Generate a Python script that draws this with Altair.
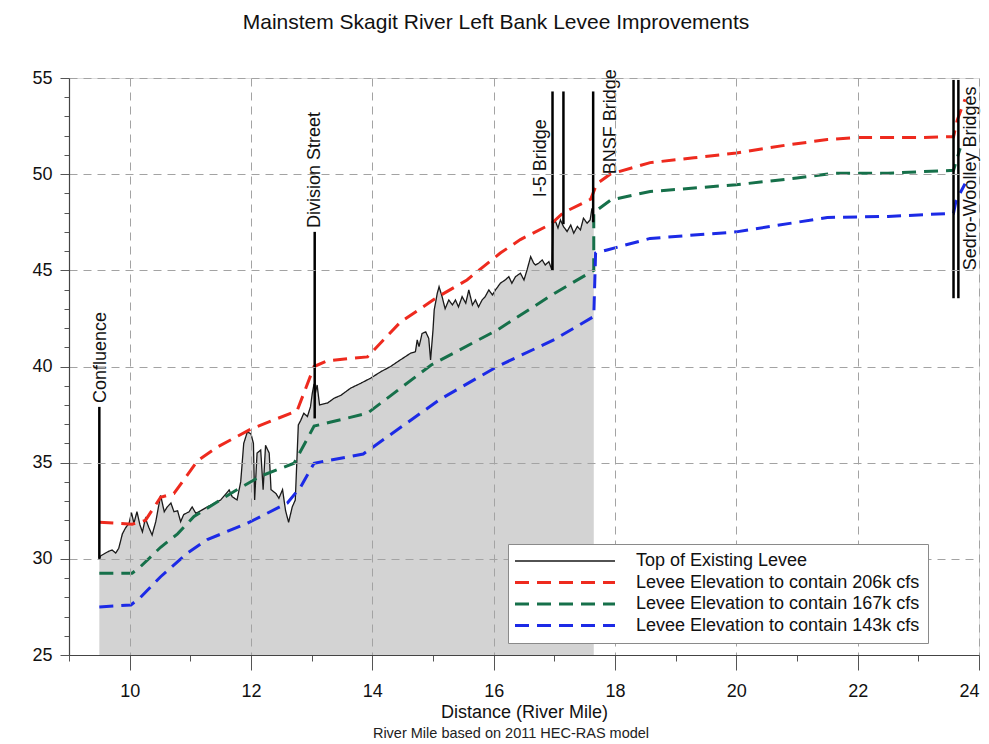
import altair as alt
import pandas as pd

title_text = "Mainstem Skagit River Left Bank Levee Improvements"
x_title = "Distance (River Mile)"
footnote = "River Mile based on 2011 HEC-RAS model"

series_names = [
    "Top of Existing Levee",
    "Levee Elevation to contain 206k cfs",
    "Levee Elevation to contain 167k cfs",
    "Levee Elevation to contain 143k cfs",
]
series_colors = ["#1a1a1a", "#ee2a1e", "#16704a", "#1c2ae6"]

levee_x = [9.5, 9.52, 9.6, 9.66, 9.71, 9.77, 9.82, 9.88, 9.93, 9.99, 10.03, 10.07, 10.12, 10.17,
           10.21, 10.26, 10.32, 10.37, 10.43, 10.51, 10.57, 10.62, 10.68, 10.73, 10.79, 10.84,
           10.89, 10.98, 11.03, 11.09, 11.17, 11.28, 11.4, 11.5, 11.64, 11.69, 11.77, 11.83,
           11.88, 11.94, 12.0, 12.04, 12.06, 12.1, 12.16, 12.2, 12.24, 12.3, 12.33, 12.41,
           12.46, 12.52, 12.57, 12.62, 12.68, 12.73, 12.78, 12.82, 12.87, 12.93, 12.98, 13.01,
           13.04, 13.06, 13.09, 13.13, 13.26, 13.37, 13.48, 13.64, 13.81, 13.97, 14.14, 14.3,
           14.46, 14.63, 14.71, 14.74, 14.77, 14.82, 14.88, 14.93, 14.96, 15.0, 15.02, 15.07,
           15.1, 15.15, 15.2, 15.26, 15.32, 15.37, 15.42, 15.48, 15.54, 15.59, 15.65, 15.7,
           15.75, 15.81, 15.86, 15.92, 15.98, 16.03, 16.11, 16.19, 16.25, 16.3, 16.36, 16.44,
           16.5, 16.55, 16.61, 16.66, 16.69, 16.74, 16.8, 16.85, 16.91, 16.96, 16.98, 17.02,
           17.06, 17.1, 17.15, 17.21, 17.27, 17.32, 17.38, 17.43, 17.48, 17.54, 17.59, 17.62,
           17.65]
levee_y = [30.0, 30.15, 30.3, 30.4, 30.46, 30.3, 30.55, 31.3, 31.6, 31.85, 32.4, 31.85, 32.45, 31.76,
           31.4, 32.1, 31.6, 31.24, 31.93, 33.3, 32.45, 32.7, 32.9, 32.45, 32.5, 31.93,
           32.3, 32.45, 32.7, 32.37, 32.5, 32.7, 32.9, 33.06, 33.58, 33.23, 33.06, 34.0,
           36.0, 36.6, 36.5, 36.0, 33.06, 35.5, 35.66, 33.6, 35.9, 35.5, 33.6, 33.4,
           33.15, 33.6, 32.5, 31.9, 32.7, 33.06, 36.96, 37.2, 37.57, 37.4, 37.9, 38.6,
           39.1, 38.6, 39.04, 38.0, 38.1, 38.35, 38.5, 38.87, 39.13, 39.39, 39.73, 40.0,
           40.34, 40.69, 40.77, 41.38, 41.03, 41.72, 41.8, 41.46, 40.34, 41.9, 42.94, 43.8,
           44.15, 43.63, 43.0, 43.46, 43.2, 43.46, 43.1, 43.63, 43.29, 43.98, 43.2, 43.46,
           43.1, 43.46, 43.63, 43.98, 43.72, 43.98, 44.33, 44.5, 44.67, 44.33, 44.67, 44.85,
           44.5, 45.02, 45.71, 45.37, 45.28, 45.37, 45.54, 45.28, 45.45, 45.02, 47.45, 47.54,
           47.2, 47.62, 47.28, 47.02, 47.36, 46.93, 47.28, 47.1, 47.71, 47.45, 47.62, 48.22,
           47.8]

red_x = [9.5, 10.04, 10.26, 10.51, 10.73, 11.12, 11.44, 12.0, 12.76, 13.04, 13.26, 13.92, 14.46,
         15.07, 15.56, 16.11, 16.44, 16.94, 17.15, 17.6, 17.7, 17.92, 18.58, 19.3, 20.0, 20.8,
         21.5, 22.0, 23.0, 23.58, 23.64, 23.77]
red_y = [31.9, 31.8, 32.0, 33.2, 33.4, 35.1, 35.8, 36.75, 37.7, 40.0, 40.3, 40.5, 42.3,
         43.6, 44.5, 45.9, 46.6, 47.4, 48.0, 48.7, 49.5, 50.0, 50.6, 50.85, 51.1, 51.5,
         51.8, 51.9, 51.9, 51.95, 52.8, 53.9]

green_x = [9.5, 10.04, 10.18, 10.51, 10.79, 11.06, 11.72, 12.16, 12.71, 13.04, 13.3, 13.92, 14.97,
           16.06, 17.0, 17.65, 17.65, 17.93, 18.58, 20.0, 21.0, 21.6, 22.5, 23.58, 23.69]
green_y = [29.25, 29.25, 29.6, 30.6, 31.3, 32.2, 33.5, 34.3, 34.97, 36.9, 37.1, 37.57, 40.08,
           41.9, 43.8, 45.0, 48.0, 48.66, 49.1, 49.45, 49.8, 50.05, 50.05, 50.2, 51.35]

blue_x = [9.5, 10.02, 10.18, 10.51, 10.95, 11.28, 11.94, 12.6, 12.82, 13.04, 13.85, 15.12, 16.06,
          17.0, 17.65, 17.68, 17.87, 18.58, 20.0, 21.0, 21.5, 22.5, 23.58, 23.62, 23.77]
blue_y = [27.5, 27.6, 28.0, 29.07, 30.3, 31.0, 31.85, 32.9, 33.75, 34.97, 35.45, 38.3, 40.0,
          41.4, 42.6, 45.9, 46.06, 46.66, 47.0, 47.5, 47.75, 47.8, 47.97, 48.6, 49.5]

marker_x = [9.5, 13.05, 16.97, 17.15, 17.64, 23.58, 23.66]
marker_lo = [30.0, 37.3, 45.0, 47.4, 47.5, 43.55, 43.55]
marker_hi = [37.9, 47.0, 54.3, 54.3, 54.3, 54.9, 54.9]

label_text = ["Confluence", "Division Street", "I-5 Bridge", "BNSF Bridge", "Sedro-Woolley Bridges"]
label_x = [9.52, 13.05, 16.78, 17.93, 23.86]
label_y = [38.1, 47.2, 48.8, 50.0, 45.0]

FONT = "Liberation Sans"


def frame(xs, ys, name):
    return pd.DataFrame({"mile": xs, "elev": ys, "series": name, "i": list(range(len(xs)))})


lines_df = pd.concat([
    frame(levee_x, levee_y, series_names[0]),
    frame(red_x, red_y, series_names[1]),
    frame(green_x, green_y, series_names[2]),
    frame(blue_x, blue_y, series_names[3]),
], ignore_index=True)
levee_df = frame(levee_x, levee_y, series_names[0])
markers_df = pd.DataFrame({"mile": marker_x, "lo": marker_lo, "hi": marker_hi})
labels_df = pd.DataFrame({"mile": label_x, "elev": label_y, "text": label_text})
foot_df = pd.DataFrame({"text": [footnote]})

xscale = alt.Scale(domain=[9, 24], nice=False)
yscale = alt.Scale(domain=[25, 55], nice=False, zero=False)

x_axis = alt.Axis(
    values=list(range(9, 25)), tickCount=40, format="d", labelOverlap=False,
    labelExpr="datum.value % 2 === 0 ? datum.label : ''",
    tickSize={"condition": {"test": "datum.value % 2 === 0", "value": 15}, "value": 6},
    gridOpacity={"condition": {"test": "datum.value % 2 === 0", "value": 1}, "value": 0},
    grid=True, gridDash=[8, 6], gridColor="#a3a3a3", gridWidth=1,
    domainColor="#444", tickColor="#555", domainWidth=1.2,
    labelFont=FONT, labelFontSize=18, labelColor="#111", labelPadding=12,
    title=x_title, titleFont=FONT, titleFontSize=18, titleFontWeight="normal", titleColor="#111",
    titlePadding=3, zindex=1,
)
y_axis = alt.Axis(
    values=list(range(25, 56)), tickCount=40, format="d", labelOverlap=False,
    labelExpr="datum.value % 5 === 0 ? datum.label : ''",
    tickSize={"condition": {"test": "datum.value % 5 === 0", "value": 9}, "value": 5},
    gridOpacity={"condition": {"test": "datum.value % 5 === 0", "value": 1}, "value": 0},
    grid=True, gridDash=[8, 6], gridColor="#a3a3a3", gridWidth=1,
    domainColor="#444", tickColor="#555", domainWidth=1.2,
    labelFont=FONT, labelFontSize=18, labelColor="#111", labelPadding=8,
    title=None, zindex=1,
)

area = alt.Chart(levee_df).mark_area(color="#d3d3d3").encode(
    x=alt.X("mile:Q", scale=xscale, axis=x_axis),
    y=alt.Y("elev:Q", scale=yscale, axis=y_axis),
    y2=alt.datum(25),
)

lines = alt.Chart(lines_df).mark_line().encode(
    x=alt.X("mile:Q", scale=xscale),
    y=alt.Y("elev:Q", scale=yscale),
    color=alt.Color("series:N", scale=alt.Scale(domain=series_names, range=series_colors),
                    legend=alt.Legend(
                        title=None, orient="none", legendX=439, legendY=466,
                        symbolType="M-5,0H5", symbolSize=400,
                        symbolStrokeWidth=alt.ExprRef(expr="datum.value === 'Top of Existing Levee' ? 1.3 : 3"),
                        symbolOffset=40, labelOffset=62,
                        labelFont=FONT, labelFontSize=18, labelColor="#111",
                        fillColor="white", strokeColor="#8a8a8a", padding=8, rowPadding=3.5,
                        labelLimit=400, zindex=2,
                    )),
    strokeDash=alt.StrokeDash("series:N", scale=alt.Scale(domain=series_names,
                                                          range=[[1, 0], [14, 8], [14, 8], [14, 8]]),
                              legend=None),
    strokeWidth=alt.condition(alt.datum.series == series_names[0], alt.value(1.3), alt.value(3)),
    order=alt.Order("i:Q"),
)

rules = alt.Chart(markers_df).mark_rule(color="black", strokeWidth=2.5).encode(
    x=alt.X("mile:Q", scale=xscale),
    y=alt.Y("lo:Q", scale=yscale),
    y2="hi:Q",
)

labels = alt.Chart(labels_df).mark_text(
    angle=270, align="left", baseline="middle", font=FONT, fontSize=18, color="#111"
).encode(
    x=alt.X("mile:Q", scale=xscale),
    y=alt.Y("elev:Q", scale=yscale),
    text="text:N",
)

foot = alt.Chart(foot_df).mark_text(font=FONT, fontSize=14.5, color="#222", baseline="middle").encode(
    x=alt.value(442), y=alt.value(656), text="text:N"
)

chart = alt.layer(area, lines, rules, labels, foot).properties(
    width=910, height=577,
    title=alt.TitleParams(title_text, font=FONT, fontSize=21, fontWeight="normal", color="#111",
                          anchor="middle", offset=36, dx=-28),
    autosize=alt.AutoSizeParams(type="none"),
    padding={"left": 69, "top": 78, "right": 10, "bottom": 89},
).configure_view(strokeWidth=0).configure(background="white")

chart.save("out.html", embed_options={"renderer": "svg", "actions": False})
